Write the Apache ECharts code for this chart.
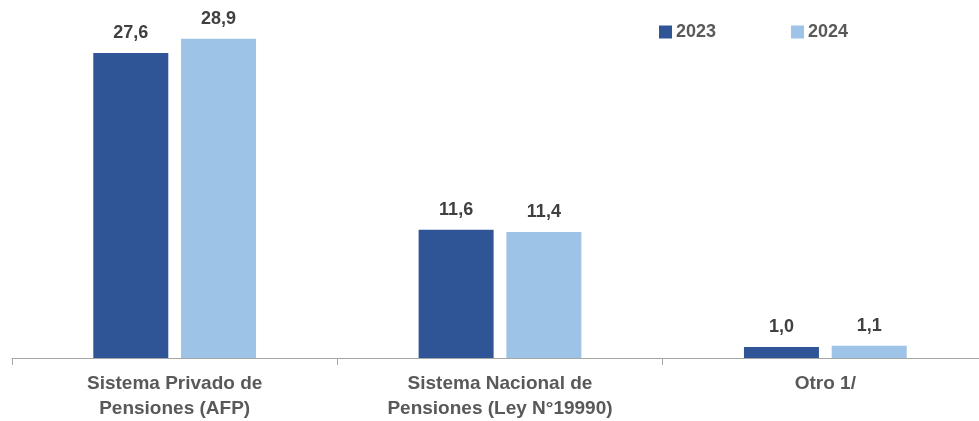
<!DOCTYPE html>
<html>
<head>
<meta charset="utf-8">
<script src="https://cdn.jsdelivr.net/npm/echarts@6/dist/echarts.min.js"></script>
<style>
  html, body { margin: 0; padding: 0; background: #fff; overflow: hidden; }
  #container { width: 988px; height: 421px; }
</style>
</head>
<body>
<div id="container"></div>
<script type="text/javascript">
    var categories = ['Sistema Privado de\nPensiones (AFP)', 'Sistema Nacional de\nPensiones (Ley N°19990)', 'Otro 1/'];
    var years = ['2023', '2024'];
    var values2023 = [27.6, 11.6, 1.0];
    var values2024 = [28.9, 11.4, 1.1];
    var colors = ['#2F5597', '#9DC3E6'];

    var fontFam = '"Liberation Sans", Arial, sans-serif';

    function fmt(p) {
        return p.value.toFixed(1).replace('.', ',');
    }

    var dom = document.getElementById('container');
    var myChart = echarts.init(dom);

    var option = {
        animation: false,
        color: colors,
        grid: { left: 12, right: 0, top: 26.6, bottom: 62 },
        legend: {
            left: 654, top: 18,
            itemWidth: 13, itemHeight: 13, itemGap: 75,
            icon: 'rect',
            data: years,
            textStyle: { fontFamily: fontFam, fontSize: 18, fontWeight: 'bold', color: '#595959', padding: [0, 0, 0, -1] }
        },
        xAxis: {
            type: 'category',
            data: categories,
            axisLine: { lineStyle: { color: '#a6a6a6', width: 1 } },
            axisTick: { show: true, length: 7, lineStyle: { color: '#a6a6a6' } },
            axisLabel: {
                margin: 13,
                fontFamily: fontFam, fontSize: 19, fontWeight: 'bold',
                color: '#595959', lineHeight: 25
            }
        },
        yAxis: {
            type: 'value', min: 0, max: 30,
            show: false,
            splitLine: { show: false }
        },
        series: [{
            name: years[0],
            type: 'bar',
            data: values2023,
            barWidth: 75,
            barGap: '17%',
            label: {
                show: true, position: 'top', distance: 11, formatter: fmt,
                fontFamily: fontFam, fontSize: 18, fontWeight: 'bold', color: '#404040'
            }
        }, {
            name: years[1],
            type: 'bar',
            data: values2024,
            barWidth: 75,
            barGap: '17%',
            label: {
                show: true, position: 'top', distance: 11, formatter: fmt,
                fontFamily: fontFam, fontSize: 18, fontWeight: 'bold', color: '#404040'
            }
        }]
    };

    myChart.setOption(option);
</script>
</body>
</html>
